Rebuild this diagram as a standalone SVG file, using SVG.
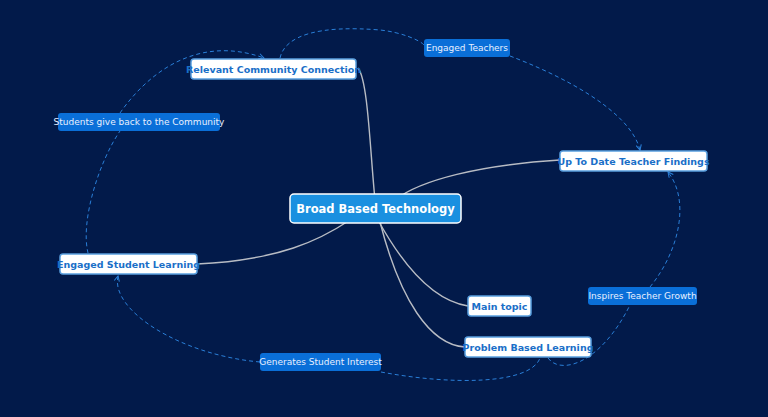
<svg xmlns="http://www.w3.org/2000/svg" width="768" height="417" viewBox="0 0 768 417">
<style>
.n{fill:#fff;stroke:#5aa0e0;stroke-width:1.5}
.nt{font:bold 9.5px "DejaVu Sans",sans-serif;fill:#1a6fc8;text-anchor:middle}
.l{fill:#0a6fd8}
.lt{font:9px "DejaVu Sans",sans-serif;fill:#e8f0ff;text-anchor:middle}
.s{fill:none;stroke:#b8bcc4;stroke-width:1.4}
.d{fill:none;stroke:#2a7fd8;stroke-width:1;stroke-dasharray:4 3}
</style>
<defs><marker id="a" viewBox="0 0 8 8" refX="7" refY="4" markerWidth="7" markerHeight="7" orient="auto"><path d="M1,1 L7,4 L1,7" fill="none" stroke="#2a7fd8" stroke-width="1.2"/></marker></defs>
<rect width="768" height="417" fill="#021a4a"/>
<g id="connectors">
<path class="s" d="M358,68 C368,80 370,150 375,200"/>
<path class="s" d="M560,160 C480,165 420,180 395,200"/>
<path class="s" d="M197,264 C280,260 320,240 350,220"/>
<path class="s" d="M378,220 C400,260 430,300 468,306"/>
<path class="s" d="M380,222 C400,300 430,345 465,347"/>
<path class="d" d="M280,58 C285,35 320,25 380,30 C400,32 420,40 424,45"/>
<path class="d" marker-end="url(#a)" d="M510,56 C560,75 630,110 640,150"/>
<path class="d" d="M88,253 C80,220 100,160 120,131"/>
<path class="d" marker-end="url(#a)" d="M120,113 C150,70 200,35 264,58"/>
<path class="d" d="M381,372 C450,385 530,385 540,358"/>
<path class="d" marker-end="url(#a)" d="M260,362 C180,355 110,310 118,276"/>
<path class="d" d="M548,358 C560,375 600,365 630,305"/>
<path class="d" marker-end="url(#a)" d="M650,287 C680,250 690,200 668,172"/>
</g>
<g id="center"><rect x="290" y="194" width="171" height="29" rx="4" fill="#1a90e0" stroke="#fff" stroke-width="1.5"/><text x="375.5" y="213" font-family="DejaVu Sans,sans-serif" font-weight="bold" font-size="11.5" fill="#fff" text-anchor="middle">Broad Based Technology</text></g>
<g id="relevant"><rect class="n" x="191" y="59" width="165" height="20" rx="3"/><text class="nt" x="273.5" y="72.5">Relevant Community Connection</text></g>
<g id="uptodate"><rect class="n" x="560" y="151" width="147" height="20" rx="3"/><text class="nt" x="633.5" y="164.5">Up To Date Teacher Findings</text></g>
<g id="engaged"><rect class="n" x="60" y="254" width="137" height="20" rx="3"/><text class="nt" x="128.5" y="267.5">Engaged Student Learning</text></g>
<g id="main"><rect class="n" x="468" y="296" width="63" height="20" rx="3"/><text class="nt" x="499.5" y="309.5">Main topic</text></g>
<g id="problem"><rect class="n" x="465" y="337" width="126" height="20" rx="3"/><text class="nt" x="528" y="350.5">Problem Based Learning</text></g>
<g id="lbl-teachers"><rect class="l" x="424" y="39" width="86" height="18" rx="3"/><text class="lt" x="467" y="51">Engaged Teachers</text></g>
<g id="lbl-students"><rect class="l" x="58" y="113" width="162" height="18" rx="3"/><text class="lt" x="139" y="125">Students give back to the Community</text></g>
<g id="lbl-inspires"><rect class="l" x="588" y="287" width="109" height="18" rx="3"/><text class="lt" x="642.5" y="299">Inspires Teacher Growth</text></g>
<g id="lbl-generates"><rect class="l" x="260" y="353" width="121" height="18" rx="3"/><text class="lt" x="320.5" y="365">Generates Student Interest</text></g>
</svg>
